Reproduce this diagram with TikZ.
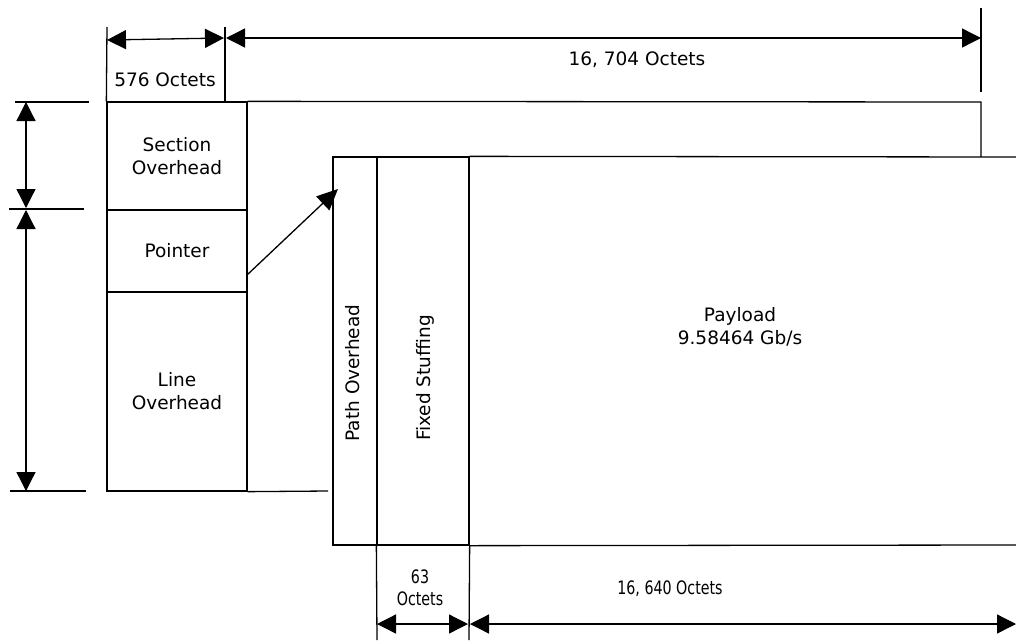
\documentclass[tikz,border=0pt]{standalone}
\usepackage{fontspec}
\setmainfont{DejaVu Sans}
\newfontfamily\narrowfont{DejaVu Sans}[FakeStretch=0.77]
\usetikzlibrary{
    arrows.meta,
    positioning
}

\begin{document}
\begin{tikzpicture}
    [x=1pt,y=-1pt,line width=1.3pt,
    % Styles
    cell/.style={draw,inner sep=0pt,align=center,font=\fontsize{18.5}{23}\selectfont},
    label text/.style={align=center,font=\fontsize{18.5}{23}\selectfont},
    narrow text/.style={align=center,font=\narrowfont\fontsize{18.5}{22}\selectfont},
    dim line/.style={{Triangle[length=19pt,width=19pt]}-{Triangle[length=19pt,width=19pt]}},
    tick line/.style={line width=1.3pt}]

    \useasboundingbox (0,0) rectangle (1016,640);

    % The frame behind
    \node[cell,minimum width=140,minimum height=108] (section) at (177,156) {Section\\Overhead};
    \node[cell,minimum width=140,minimum height=82] (pointer) at (177,251) {Pointer};
    \node[cell,minimum width=140,minimum height=199] (line) at (177,391.5) {Line\\Overhead};
    \draw (section.north east) -- (981,102) -- (981,157);
    \draw (line.south east) -- (328,491);

    % The frame in front
    \node[cell,minimum width=44,minimum height=388] (path) at (355,351) {};
    \node[cell,minimum width=92,minimum height=388] (stuff) at (423,351) {};
    \node[label text,rotate=90] (pathtext) at (353,373) {Path Overhead};
    \node[label text,rotate=90] (stufftext) at (425,378) {Fixed Stuffing};
    \draw (stuff.north east) -- (1016,157);
    \draw (stuff.south east) -- (1016,545);
    \node[label text] (payload) at (740,327) {Payload\\9.58464 Gb/s};

    % pointer into the payload
    \coordinate (ptr) at (247,275);
    \coordinate (ptrtip) at (338,189);
    \draw[-{Triangle[length=21pt,width=19pt]}] (ptr) -- (ptrtip);

    % dimension lines at the top
    \draw[tick line] (107,27) -- (section.north west);
    \draw[tick line] (225,27) -- (225,102);
    \draw[tick line] (981,8) -- (981,92);
    \coordinate (a1) at (107,40);
    \coordinate (a2) at (224,38);
    \coordinate (a3) at (226,38);
    \coordinate (a4) at (981,38);
    \draw[dim line] (a1) -- (a2);
    \draw[dim line] (a3) -- (a4);
    \node[label text] (oct576) at (165,80) {576 Octets};
    \node[label text] (oct16704) at (637,60) {16, 704 Octets};

    % dimension lines on the left
    \draw[tick line] (15,102) -- (89,102);
    \draw[tick line] (9,209) -- (84,209);
    \draw[tick line] (10,491) -- (86,491);
    \coordinate (v1) at (26,102);
    \coordinate (v2) at (26,208);
    \coordinate (v3) at (26,210);
    \coordinate (v4) at (26,491);
    \draw[dim line] (v1) -- (v2);
    \draw[dim line] (v3) -- (v4);

    % dimension lines at the bottom
    \draw[tick line] (stuff.south west) -- (377,640);
    \draw[tick line] (stuff.south east) -- (469,640);
    \coordinate (b1) at (377,624);
    \coordinate (b2) at (468,624);
    \coordinate (b3) at (470,624);
    \coordinate (b4) at (1016,624);
    \draw[dim line] (b1) -- (b2);
    \draw[dim line] (b3) -- (b4);
    \node[narrow text] (oct63) at (420,588) {63\\Octets};
    \node[narrow text] (oct16640) at (670,589) {16, 640 Octets};
\end{tikzpicture}
\end{document}
